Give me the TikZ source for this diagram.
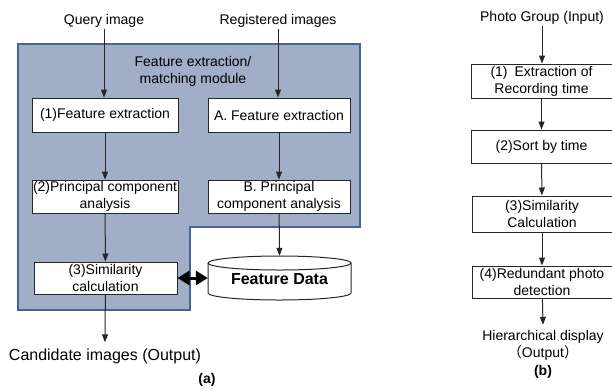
\documentclass[tikz,border=0pt]{standalone}
\usepackage{fontspec}
\setmainfont{Liberation Sans}
\newfontfamily\cjk{Noto Sans CJK SC}
\usetikzlibrary{arrows.meta}
\definecolor{modfill}{RGB}{160,174,200}
\definecolor{modline}{RGB}{70,100,150}
\tikzset{
  stepbox/.style={draw=black!85, fill=white, line width=1pt, align=center, inner sep=1pt, minimum height=33pt},
  flow/.style={-{Triangle[length=8pt,width=6pt]}, line width=1pt, draw=black!85},
  lbl/.style={align=center, inner sep=1pt},
  bigtip/.tip={Triangle[length=12pt,width=14pt]},
}
\begin{document}
\begin{tikzpicture}[x=1pt,y=-1pt,font=\fontsize{14}{17}\selectfont]
    \useasboundingbox (0,0) rectangle (612,389);
    % (a) matching module
    \filldraw[fill=modfill,draw=modline,line width=1.5pt] (18,44) -- (360,44) -- (360,227) -- (190,227) -- (190,310) -- (18,310) -- cycle;
    \node[lbl] (query) at (104,21) {Query image};
    \node[lbl] (reg) at (278,21) {Registered images};
    \node[lbl] (module) at (193,71) {Feature extraction/\\matching module};
    \node[stepbox,minimum width=146pt,minimum height=34pt] (fe1) at (105,115) {(1)Feature extraction};
    \node[stepbox,minimum width=142pt,minimum height=34pt] (feA) at (279,115) {A. Feature extraction};
    \node[stepbox,minimum width=146pt] (pca2) at (105,196.5) {(2)Principal component\\analysis};
    \node[stepbox,minimum width=142pt] (pcaB) at (279,196.5) {B. Principal\\component analysis};
    \node[stepbox,minimum width=143pt,minimum height=32pt] (sim3) at (105.5,278) {(3)Similarity\\calculation};
    \filldraw[fill=white,draw=black!85,line width=1pt] (208,263) -- (208,293) arc[start angle=180,end angle=0,x radius=71.5,y radius=7] -- (351,263);
    \filldraw[fill=white,draw=black!85,line width=1pt] (279.5,263) ellipse[x radius=71.5,y radius=7];
    \node[minimum width=143pt,minimum height=44pt,inner sep=0pt,font=\fontsize{16}{19}\selectfont\bfseries] (fdata) at (279.5,279) {Feature Data};
    \node[lbl,font=\fontsize{16}{19}\selectfont] (cand) at (105,356) {Candidate images (Output)};
    \node[lbl,font=\fontsize{14}{17}\selectfont\bfseries] (capa) at (207,380) {(a)};
    \draw[flow] (query.south) -- (query.south |- fe1.north);
    \draw[flow] (reg.south) -- (reg.south |- feA.north);
    \draw[flow] (fe1) -- (pca2);
    \draw[flow] (pca2) -- (sim3);
    \draw[flow] (feA) -- (pcaB);
    \draw[flow] (pcaB) -- ([yshift=1pt]fdata.north);
    \draw[flow] (sim3) -- ([yshift=5pt]cand.north);
    \draw[bigtip-bigtip,line width=3pt] (sim3) -- (sim3 -| fdata.west);
    % (b) photo grouping
    \node[lbl] (photo) at (542,18) {Photo Group (Input)};
    \node[stepbox,minimum width=141pt,minimum height=34pt] (rec) at (541.5,81) {(1)\enspace Extraction of\\Recording time};
    \node[stepbox,minimum width=141pt] (sort) at (541.5,146.5) {(2)Sort by time};
    \node[stepbox,minimum width=140pt,minimum height=36pt] (simc) at (542,214) {(3)Similarity\\Calculation};
    \node[stepbox,minimum width=140pt,minimum height=32pt] (redund) at (542,282) {(4)Redundant photo\\detection};
    \node[lbl] (hier) at (543,345) {Hierarchical display\\{\cjk （}Output{\cjk ）}};
    \node[lbl,font=\fontsize{14}{17}\selectfont\bfseries] (capb) at (543,372) {(b)};
    \draw[flow] (photo.south) -- (photo.south |- rec.north);
    \draw[flow] (rec) -- (sort);
    \draw[flow] (sort) -- (simc);
    \draw[flow] (simc) -- (redund);
    \draw[flow] (redund) -- ([yshift=4pt]hier.north);
\end{tikzpicture}
\end{document}
